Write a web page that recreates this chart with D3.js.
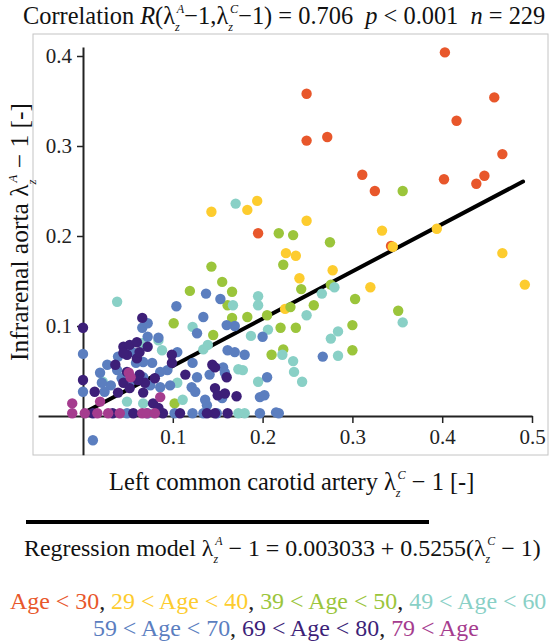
<!DOCTYPE html>
<html>
<head>
<meta charset="utf-8">
<script src="https://cdn.jsdelivr.net/npm/d3@7"></script>
<style>
  body { margin: 0; background: #fff; }
  svg { display: block; }
  text { font-family: "Liberation Serif", "Times New Roman", serif; white-space: pre; }
</style>
</head>
<body>
<svg class="chart"></svg>
<script>
// data, [carotid stretch - 1, aorta stretch - 1] per subject, one array per age group
var ageUnder30 = [[0.403,0.404],[0.249,0.358],[0.458,0.354],[0.416,0.328],[0.249,0.306],[0.272,0.310],
  [0.467,0.291],[0.311,0.268],[0.325,0.250],[0.402,0.263],[0.447,0.267],[0.438,0.258],[0.195,0.203],[0.343,0.189]];
var age30s = [[0.143,0.227],[0.183,0.229],[0.194,0.239],[0.249,0.217],[0.333,0.206],[0.394,0.208],[0.345,0.188],
  [0.467,0.181],[0.492,0.146],[0.320,0.143],[0.278,0.162],[0.241,0.153],[0.226,0.181],[0.237,0.178],[0.225,0.119]];
var age40s = [[0.356,0.250],[0.218,0.203],[0.234,0.201],[0.275,0.193],[0.223,0.168],[0.243,0.141],[0.276,0.146],
  [0.303,0.130],[0.231,0.121],[0.257,0.123],[0.351,0.117],[0.220,0.098],[0.237,0.098],[0.300,0.101],[0.223,0.074],
  [0.210,0.068],[0.300,0.073],[0.205,0.112],[0.183,0.110],[0.143,0.166],[0.155,0.149],[0.119,0.139],[0.166,0.138],
  [0.101,0.103],[0.145,0.090],[0.166,0.109],[0.102,0.014],[0.161,0.123]];
var age50s = [[0.170,0.236],[0.280,0.143],[0.266,0.136],[0.249,0.112],[0.284,0.094],[0.276,0.086],[0.356,0.104],
  [0.222,0.068],[0.234,0.061],[0.235,0.049],[0.244,0.038],[0.284,0.067],[0.195,0.133],[0.195,0.123],[0.167,0.123],
  [0.206,0.096],[0.187,0.089],[0.173,0.052],[0.195,0.038],[0.173,0.003],[0.180,0.003],[0.038,0.127],[0.122,0.099],
  [0.134,0.074],[0.139,0.079],[0.178,0.051],[0.088,0.073],[0.105,0.037],[0.111,0.018],[0.022,0.038],[0.049,0.016],
  [0.084,0.084],[0.067,0.014],[0.066,0.081]];
var age60s = [[0.011,-0.027],[0.000,0.069],[0.000,0.027],[0.104,0.122],[0.137,0.136],[0.153,0.130],[0.134,0.110],
  [0.066,0.098],[0.072,0.088],[0.084,0.087],[0.127,0.092],[0.169,0.100],[0.200,0.088],[0.161,0.073],[0.180,0.068],
  [0.105,0.071],[0.027,0.057],[0.039,0.066],[0.059,0.059],[0.077,0.059],[0.094,0.051],[0.031,0.034],[0.052,0.037],
  [0.067,0.043],[0.086,0.032],[0.097,0.034],[0.122,0.059],[0.127,0.043],[0.141,0.046],[0.156,0.054],[0.138,0.012],
  [0.155,0.020],[0.197,0.021],[0.202,0.023],[0.205,0.043],[0.149,0.003],[0.134,0.003],[0.122,0.003],[0.102,0.003],
  [0.072,0.003],[0.049,0.003],[0.215,0.004],[0.267,0.066],[0.197,0.003],[0.218,0.003],[0.160,0.101],[0.072,0.103],
  [0.021,0.037],[0.038,0.051],[0.043,0.042],[0.067,0.060],[0.055,0.071],[0.024,0.027],[0.086,0.049],[0.075,0.034],
  [0.121,0.032],[0.125,0.027],[0.136,0.018],[0.158,0.048],[0.169,0.071],[0.019,0.048]];
var age70s = [[0.000,0.098],[0.000,0.040],[0.066,0.109],[0.045,0.077],[0.052,0.079],[0.060,0.082],[0.049,0.068],
  [0.060,0.064],[0.036,0.057],[0.072,0.077],[0.080,0.042],[0.069,0.037],[0.063,0.046],[0.045,0.037],[0.039,0.026],
  [0.013,0.027],[0.067,0.026],[0.078,0.014],[0.099,0.059],[0.114,0.046],[0.144,0.057],[0.147,0.054],[0.160,0.043],
  [0.147,0.031],[0.150,0.023],[0.171,0.022],[0.089,0.003],[0.108,0.003],[0.147,0.003],[0.161,0.003],[0.033,0.003],
  [0.056,0.003],[0.045,0.070],[0.052,0.031],[0.049,0.049],[0.061,0.040],[0.011,0.003],[0.099,0.068],[0.158,0.025],
  [0.138,0.003],[0.063,0.071],[0.084,0.009]];
var age80plus = [[-0.012,0.014],[0.019,0.016],[0.051,0.048],[0.086,0.021],[-0.012,0.003],[0.002,0.003],[0.016,0.003],
  [0.028,0.003],[0.041,0.003],[0.066,0.003],[0.071,0.003],[0.053,0.043],[0.080,0.003]];

var ageLabels = ['Age < 30', '29 < Age < 40', '39 < Age < 50', '49 < Age < 60',
  '59 < Age < 70', '69 < Age < 80', '79 < Age'];
var ageColors = ['#e8572b', '#fdcc2e', '#9bc53b', '#89d0c6', '#5b7ebf', '#3d1f78', '#a53c8e'];

var corrR = '0.706', corrP = '0.001', corrN = 229;
var regIntercept = 0.003033, regSlope = 0.5255, regXMax = 0.49;

var xTickLabels = [0.1, 0.2, 0.3, 0.4, 0.5];
var yTickLabels = [0.1, 0.2, 0.3, 0.4];

// chart
var width = 552, height = 642;
var fs = 24.4;
var fsBottom = 23.9; // regression text + legend, kept inside the page

var groups = [ageUnder30, age30s, age40s, age50s, age60s, age70s, age80plus].map(function(pts, i) {
  return {label: ageLabels[i], color: ageColors[i], pts: pts};
});

var chart = d3.select('.chart')
    .attr('width', width)
    .attr('height', height);

chart.append('rect')
    .attr('x', 33).attr('y', 34)
    .attr('width', 515).attr('height', 421)
    .attr('fill', '#fff')
    .attr('stroke', '#c4c4c4');

var x = d3.scaleLinear().domain([-0.05, 0.5]).range([38.1, 532]);
var y = d3.scaleLinear().domain([-0.043, 0.41]).range([454.7, 47]);

// text with lambda_z^A style symbols
function addRich(text, parts, size) {
  var pend = 0;
  function span(s) {
    var t = text.append('tspan').text(s);
    if (pend) { t.attr('dy', pend); pend = 0; }
    return t;
  }
  parts.forEach(function(p) {
    if (typeof p === 'string') { span(p); return; }
    if (p.lam) {
      span('λ');
      text.append('tspan').attr('font-size', size * 0.5).attr('font-style', 'italic')
        .attr('dy', size * 0.3).text('z');
      text.append('tspan').attr('font-size', size * 0.5).attr('font-style', 'italic')
        .attr('dx', -size * 0.12).attr('dy', -size * 0.75).text(p.lam);
      pend = size * 0.45;
      return;
    }
    var t = span(p.t);
    if (p.it) t.attr('font-style', 'italic');
    if (p.fill) t.attr('fill', p.fill);
  });
}

// axes
var minorX = d3.range(-4, 26).map(function(i) { return i * 0.02; });
var minorY = d3.range(-2, 21).map(function(i) { return i * 0.02; });

var xAxisG = chart.append('g')
    .attr('transform', 'translate(0,' + y(0) + ')');
xAxisG.call(d3.axisBottom(x).tickValues(minorX).tickSize(4).tickSizeOuter(0).tickFormat(''));
xAxisG.call(d3.axisBottom(x).tickValues(xTickLabels).tickSize(7).tickSizeOuter(0)
    .tickPadding(6).tickFormat(d3.format('.1f')));

var yAxisG = chart.append('g')
    .attr('transform', 'translate(' + x(0) + ',0)');
yAxisG.call(d3.axisLeft(y).tickValues(minorY).tickSize(4).tickSizeOuter(0).tickFormat(''));
yAxisG.call(d3.axisLeft(y).tickValues(yTickLabels).tickSize(6).tickSizeOuter(0)
    .tickPadding(5).tickFormat(d3.format('.1f')));

xAxisG.attr('font-family', null).attr('font-size', null);
yAxisG.attr('font-family', null).attr('font-size', null);
chart.selectAll('.domain').attr('stroke', '#222').attr('stroke-width', 2);
chart.selectAll('.tick line').attr('stroke', '#222').attr('stroke-width', 1.5);
chart.selectAll('.tick text')
    .attr('fill', '#222')
    .attr('font-family', '"Liberation Serif", serif')
    .attr('font-size', 21);

// regression line, under the points
chart.append('line')
    .attr('x1', x(0)).attr('y1', y(regIntercept))
    .attr('x2', x(regXMax)).attr('y2', y(regIntercept + regSlope * regXMax))
    .attr('stroke', '#000')
    .attr('stroke-width', 4)
    .attr('stroke-linecap', 'round');

// points
groups.forEach(function(g) {
  chart.append('g').selectAll('circle')
      .data(g.pts)
    .enter().append('circle')
      .attr('cx', function(d) { return x(d[0]); })
      .attr('cy', function(d) { return y(d[1]); })
      .attr('r', 5.2)
      .attr('fill', g.color);
});

// title
var title = chart.append('text')
    .attr('x', 23).attr('y', 24)
    .attr('font-size', fs)
    .attr('fill', '#111');
addRich(title, ['Correlation ', {t: 'R', it: true}, '(', {lam: 'A'}, '−1,', {lam: 'C'},
  '−1) = ' + corrR + '  ', {t: 'p', it: true}, ' < ' + corrP + '  ', {t: 'n', it: true}, ' = ' + corrN], fs);

// axis labels
var xLabel = chart.append('text')
    .attr('x', 109).attr('y', 490)
    .attr('font-size', fs)
    .attr('fill', '#111');
addRich(xLabel, ['Left common carotid artery ', {lam: 'C'}, ' − 1 [-]'], fs);

var yLabel = chart.append('text')
    .attr('transform', 'translate(28,232) rotate(-90)')
    .attr('text-anchor', 'middle')
    .attr('font-size', 25.5)
    .attr('fill', '#111');
addRich(yLabel, ['Infrarenal aorta ', {lam: 'A'}, ' − 1 [-]'], 25.5);

// regression model
chart.append('line')
    .attr('x1', 26).attr('x2', 429)
    .attr('y1', 522).attr('y2', 522)
    .attr('stroke', '#000')
    .attr('stroke-width', 4);

var regText = chart.append('text')
    .attr('x', 24).attr('y', 556)
    .attr('font-size', fsBottom)
    .attr('fill', '#111');
addRich(regText, ['Regression model ', {lam: 'A'}, ' − 1 = ' + regIntercept + ' + ' + regSlope + '(',
  {lam: 'C'}, ' − 1)'], fsBottom);

// legend
function legendLine(idx, lx, ly) {
  var parts = [];
  idx.forEach(function(i, k) {
    if (k > 0) parts.push({t: ', ', fill: '#222'});
    parts.push({t: groups[i].label, fill: groups[i].color});
  });
  var t = chart.append('text')
      .attr('x', lx).attr('y', ly)
      .attr('font-size', fsBottom);
  addRich(t, parts, fsBottom);
}
legendLine([0, 1, 2, 3], 10, 609);
legendLine([4, 5, 6], 93, 636);
</script>
</body>
</html>
